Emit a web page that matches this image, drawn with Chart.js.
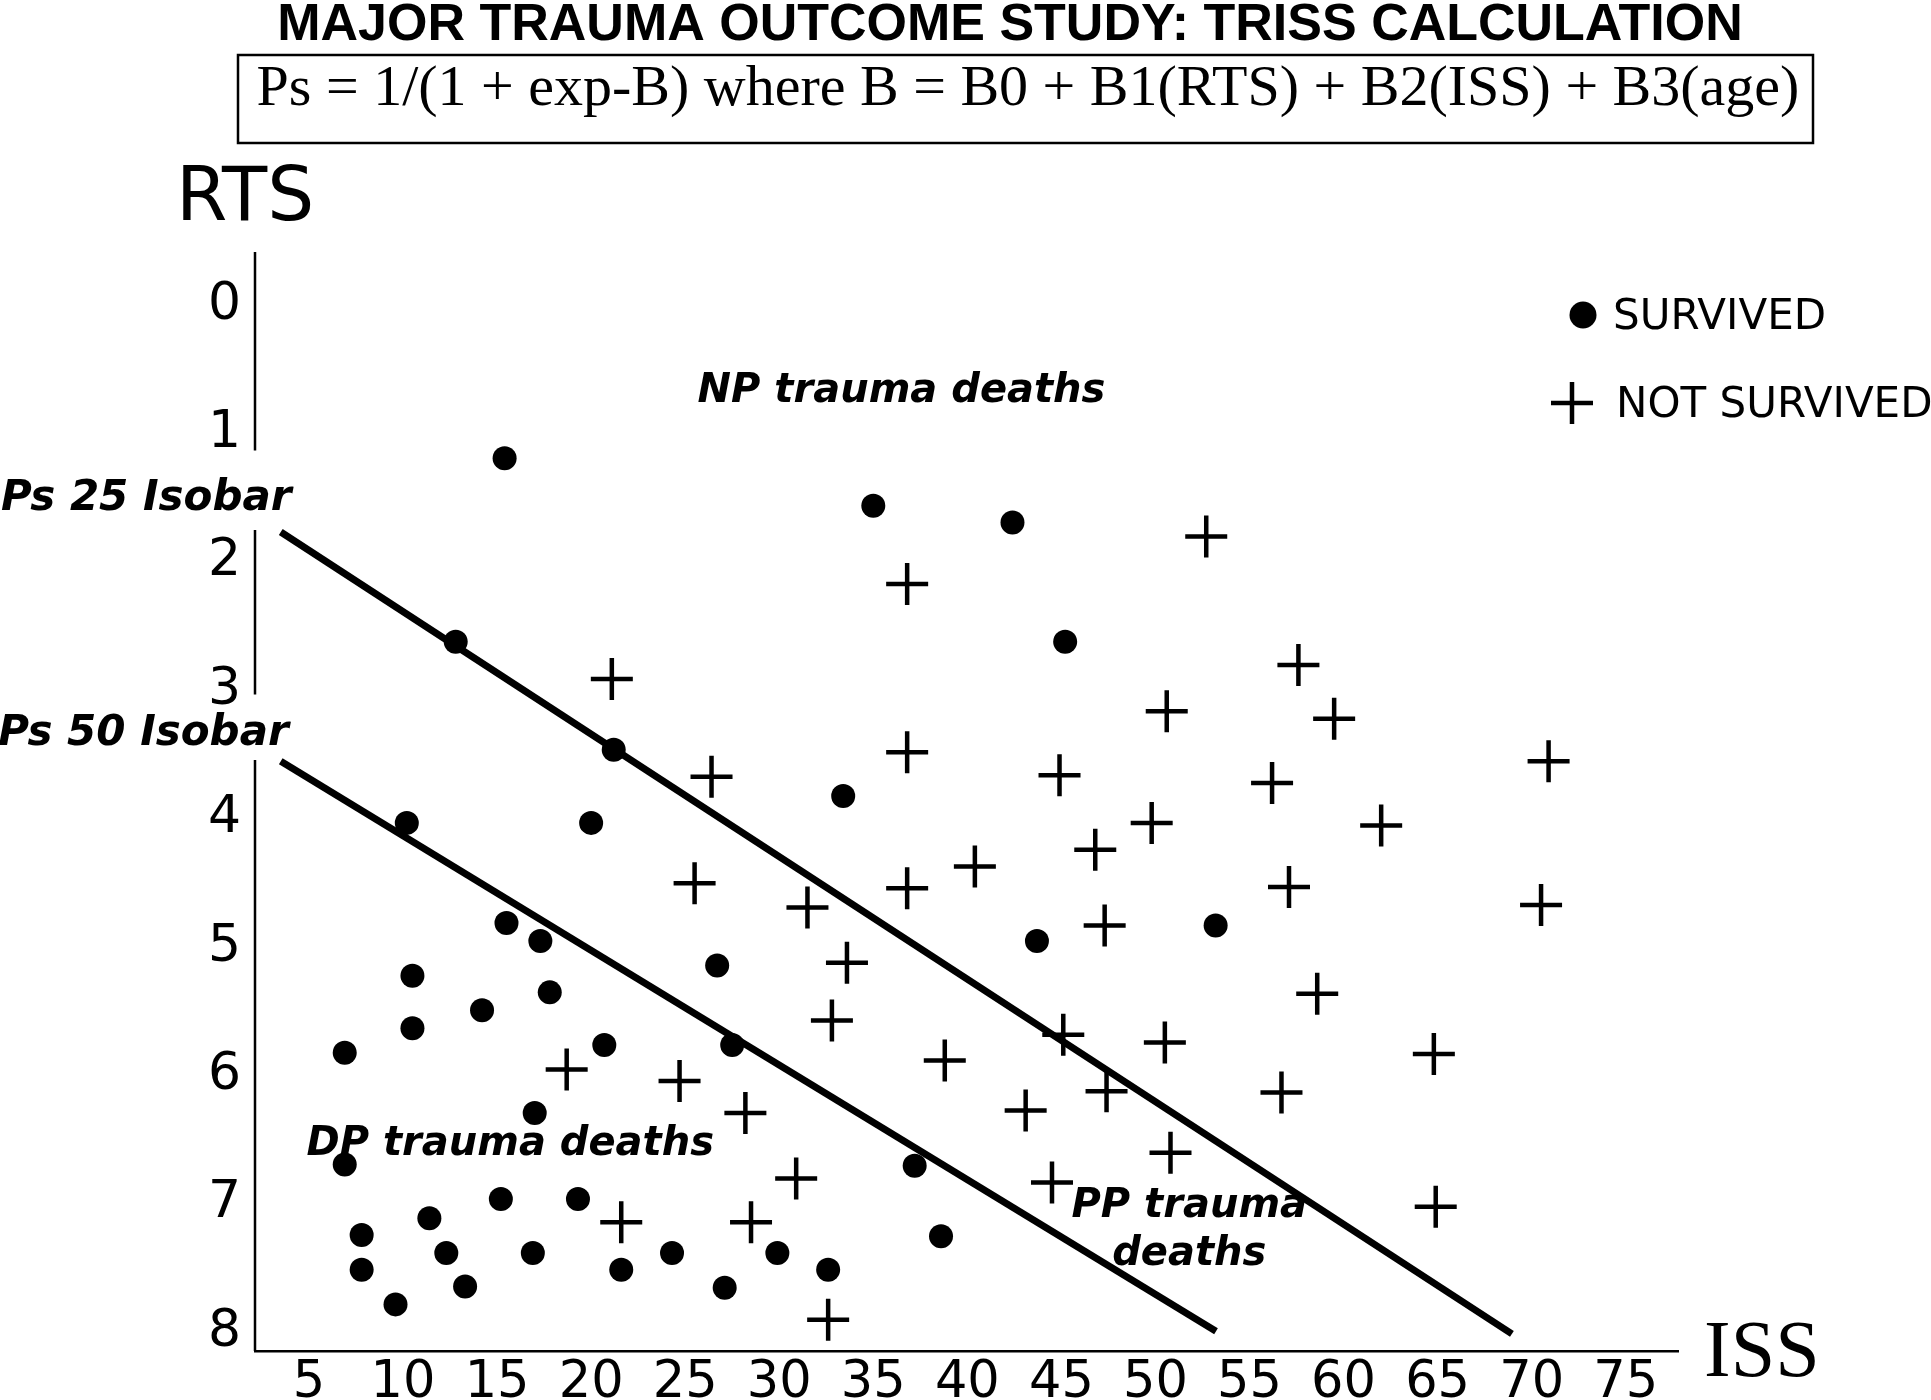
<!DOCTYPE html>
<html>
<head>
<meta charset="utf-8">
<title>Major Trauma Outcome Study: TRISS calculation</title>
<script src="https://cdn.jsdelivr.net/npm/chart.js@4.4.0/dist/chart.umd.min.js"></script>
<style>
  html, body { margin: 0; padding: 0; background: #fff; }
  #wrap { width: 1931px; height: 1400px; }
</style>
</head>
<body>
<div id="wrap"><canvas id="trissChart" width="1931" height="1400"></canvas></div>
<script>
// patients who survived (ISS, RTS)
const survivedISS = [15.4, 35.0, 42.4, 12.8, 45.2, 21.2, 33.4, 10.2, 20.0, 15.5,
                     17.3, 43.7, 53.2, 10.5, 17.8, 26.7, 14.2, 10.5, 6.9, 20.7,
                     27.5, 17.0, 6.9, 37.2, 15.2, 19.3, 11.4, 7.8, 38.6, 12.3,
                     16.9, 24.3, 29.9, 7.8, 21.6, 32.6, 13.3, 27.1, 9.6];
const survivedRTS = [1.24, 1.61, 1.74, 2.67, 2.67, 3.51, 3.87, 4.08, 4.08, 4.86,
                     5.00, 5.00, 4.88, 5.27, 5.40, 5.19, 5.54, 5.68, 5.87, 5.81,
                     5.81, 6.34, 6.74, 6.75, 7.01, 7.01, 7.16, 7.29, 7.30, 7.43,
                     7.43, 7.43, 7.43, 7.56, 7.56, 7.56, 7.69, 7.70, 7.83];

// patients who did not survive (ISS, RTS)
const deadISS = [52.7, 36.8, 21.1, 57.6, 50.6, 59.5, 36.8, 26.4, 44.9, 56.2,
                 70.9, 49.8, 62.0, 46.8, 40.4, 25.5, 36.8, 57.1, 31.5, 70.5,
                 47.3, 33.6, 58.6, 32.8, 45.1, 50.5, 18.7, 38.8, 64.8, 24.7,
                 47.4, 56.7, 28.2, 43.1, 50.8, 30.9, 44.5, 64.9, 21.6, 28.5, 32.6];
const deadRTS = [1.85, 2.22, 2.96, 2.85, 3.21, 3.27, 3.53, 3.72, 3.71, 3.77,
                 3.60, 4.08, 4.10, 4.29, 4.42, 4.55, 4.59, 4.58, 4.74, 4.72,
                 4.88, 5.17, 5.41, 5.62, 5.73, 5.79, 6.00, 5.93, 5.88, 6.09,
                 6.17, 6.18, 6.34, 6.32, 6.65, 6.85, 6.88, 7.07, 7.19, 7.19, 7.95];

// isobar end points
const isobar25ISS = [3.5, 68.95];
const isobar25RTS = [1.815, 8.06];
const isobar50ISS = [3.5, 53.22];
const isobar50RTS = [3.6, 8.04];

// axis ticks
const issTicks = [5, 10, 15, 20, 25, 30, 35, 40, 45, 50, 55, 60, 65, 70, 75];
const rtsTicks = [0, 1, 2, 3, 4, 5, 6, 7, 8];

const toPoints = (xs, ys) => xs.map((v, i) => ({ x: v, y: ys[i] }));

// the RTS axis is broken where the isobar labels sit
const rtsAxisBreaks = [[1.18, 1.80], [3.08, 3.59]];

const sans = '"DejaVu Sans", Verdana, sans-serif';

const overlay = {
    id: 'overlay',
    beforeDraw(chart) {
        const ctx = chart.ctx;
        ctx.save();
        ctx.fillStyle = '#fff';
        ctx.fillRect(0, 0, chart.width, chart.height);
        ctx.restore();
    },
    afterDraw(chart) {
        const { ctx, chartArea, scales: { x, y } } = chart;
        ctx.save();
        ctx.fillStyle = '#000';
        ctx.strokeStyle = '#000';

        // y axis line with gaps
        ctx.lineWidth = 2.5;
        let from = chartArea.top;
        const segs = [];
        rtsAxisBreaks.forEach(b => {
            segs.push([from, y.getPixelForValue(b[0])]);
            from = y.getPixelForValue(b[1]);
        });
        segs.push([from, chartArea.bottom]);
        ctx.beginPath();
        segs.forEach(s => {
            ctx.moveTo(chartArea.left, s[0]);
            ctx.lineTo(chartArea.left, s[1]);
        });
        ctx.stroke();

        // title
        ctx.textAlign = 'center';
        ctx.textBaseline = 'alphabetic';
        ctx.font = 'bold 52px "Liberation Sans", Arial, sans-serif';
        ctx.fillText('MAJOR TRAUMA OUTCOME STUDY: TRISS CALCULATION', 1010, 40);

        // formula box
        ctx.lineWidth = 2.5;
        ctx.strokeRect(238, 55, 1575, 88);
        ctx.font = '58px "Liberation Serif", "Times New Roman", serif';
        ctx.fillText('Ps = 1/(1 + exp-B) where B = B0 + B1(RTS) + B2(ISS) + B3(age)', 1028, 105);

        // axis titles
        ctx.font = '74px ' + sans;
        ctx.fillText('RTS', 245, 220);
        ctx.textAlign = 'left';
        ctx.font = '80px "Liberation Serif", "Times New Roman", serif';
        ctx.fillText('ISS', 1704, 1376);

        // region and isobar labels
        ctx.textAlign = 'center';
        ctx.font = 'italic bold 40px ' + sans;
        const label = (t, ix, rt) => ctx.fillText(t, x.getPixelForValue(ix), y.getPixelForValue(rt));
        label('NP trauma deaths', 36.5, 0.80);
        label('DP trauma deaths', 15.7, 6.67);
        label('PP trauma', 51.8, 7.15);
        label('deaths', 51.8, 7.52);
        ctx.font = 'italic bold 42px ' + sans;
        label('Ps 25 Isobar', -3.65, 1.64);
        label('Ps 50 Isobar', -3.8, 3.47);

        // legend
        ctx.textAlign = 'left';
        ctx.textBaseline = 'middle';
        ctx.font = '42px ' + sans;
        ctx.beginPath();
        ctx.arc(1583, 315, 13.5, 0, Math.PI * 2);
        ctx.fill();
        ctx.fillText('SURVIVED', 1613, 318);
        ctx.lineWidth = 4.5;
        ctx.beginPath();
        ctx.moveTo(1551, 403); ctx.lineTo(1593, 403);
        ctx.moveTo(1572, 382); ctx.lineTo(1572, 424);
        ctx.stroke();
        ctx.fillText('NOT SURVIVED', 1616, 406);

        ctx.restore();
    }
};

new Chart(document.getElementById('trissChart'), {
    type: 'scatter',
    data: {
        datasets: [
            {
                label: 'Ps 25 Isobar',
                data: toPoints(isobar25ISS, isobar25RTS),
                showLine: true,
                borderColor: '#000',
                borderWidth: 7,
                borderCapStyle: 'butt',
                pointRadius: 0
            },
            {
                label: 'Ps 50 Isobar',
                data: toPoints(isobar50ISS, isobar50RTS),
                showLine: true,
                borderColor: '#000',
                borderWidth: 7,
                borderCapStyle: 'butt',
                pointRadius: 0
            },
            {
                label: 'SURVIVED',
                data: toPoints(survivedISS, survivedRTS),
                pointStyle: 'circle',
                pointRadius: 12,
                backgroundColor: '#000',
                borderColor: '#000',
                borderWidth: 0
            },
            {
                label: 'NOT SURVIVED',
                data: toPoints(deadISS, deadRTS),
                pointStyle: 'cross',
                pointRadius: 21,
                borderColor: '#000',
                borderWidth: 4.5
            }
        ]
    },
    options: {
        responsive: false,
        animation: false,
        devicePixelRatio: 1,
        layout: { padding: { top: 252, right: 253, left: 0, bottom: 0 } },
        plugins: {
            legend: { display: false },
            tooltip: { enabled: false }
        },
        scales: {
            x: {
                type: 'linear',
                min: 2.13,
                max: 77.78,
                afterBuildTicks: (scale) => { scale.ticks = issTicks.map(v => ({ value: v })); },
                afterFit: (scale) => { scale.height = 49; },
                grid: { display: false, drawTicks: false },
                border: { display: true, color: '#000', width: 2.5 },
                ticks: {
                    autoSkip: false,
                    maxRotation: 0,
                    padding: 2,
                    color: '#000',
                    font: { family: sans, size: 51 }
                }
            },
            y: {
                type: 'linear',
                reverse: true,
                min: -0.366,
                max: 8.193,
                afterBuildTicks: (scale) => { scale.ticks = rtsTicks.map(v => ({ value: v })); },
                afterFit: (scale) => { scale.width = 255; },
                grid: { display: false, drawTicks: false },
                border: { display: false },
                ticks: {
                    padding: 14,
                    color: '#000',
                    // empty first line nudges the digit a little lower, as in the original
                    callback: (v) => ['', String(v)],
                    font: { family: sans, size: 52, lineHeight: '12px' }
                }
            }
        }
    },
    plugins: [overlay]
});
</script>
</body>
</html>
